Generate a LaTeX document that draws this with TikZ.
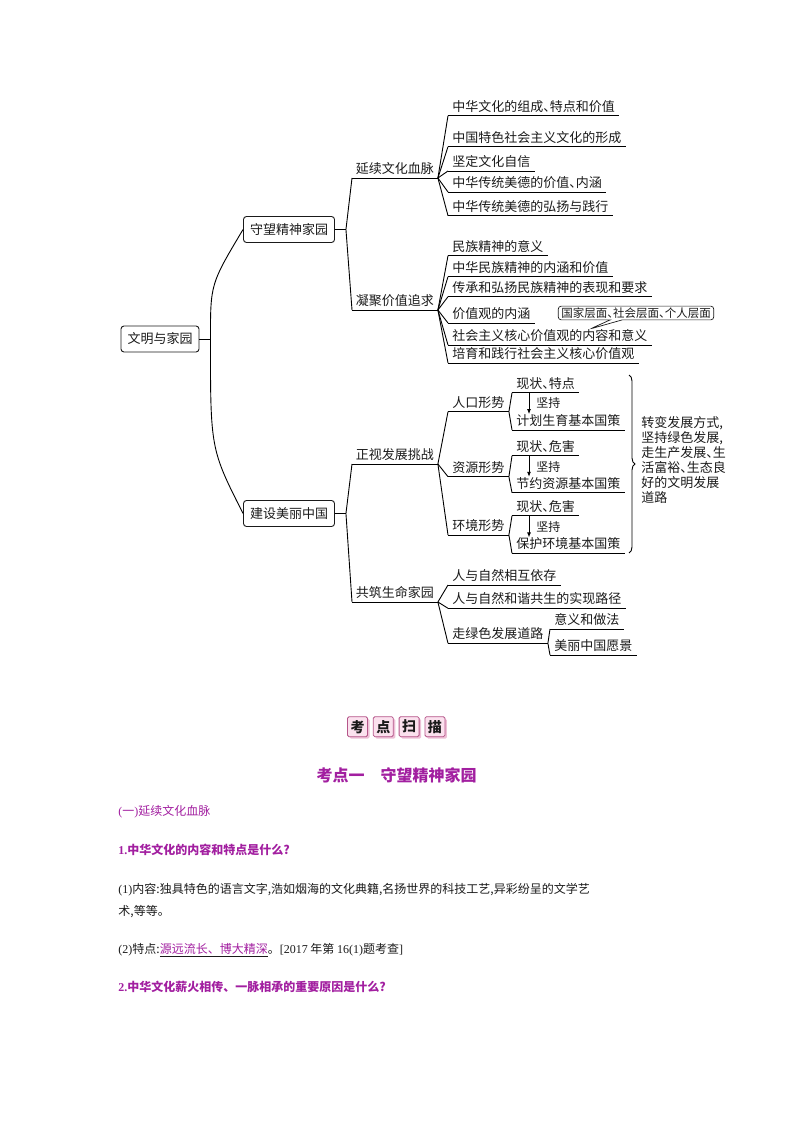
\documentclass[tikz,border=0pt]{standalone}
\usepackage{fontspec}
\setmainfont{Liberation Serif}
\newfontfamily\cjk{Noto Sans CJK SC}
\newfontfamily\cjkmap[RawFeature=+halt]{Noto Sans CJK SC}
\usetikzlibrary{arrows.meta,calc,decorations.pathreplacing,shapes.callouts,shadows}
\definecolor{ink}{HTML}{1A1A1A}
\definecolor{plum}{HTML}{A21FA0}
\definecolor{pinkfill}{HTML}{FBE1EE}
\definecolor{pinkline}{HTML}{B5568A}
\definecolor{pinkshade}{HTML}{EDC0D6}
\newcommand\latn[1]{{\rmfamily #1}}

\begin{document}
\begin{tikzpicture}[x=1pt,y=-1pt,>={Latex[length=5pt,width=4pt]},line width=.9pt,every node/.style={text=ink},
  box/.style={draw=ink,rounded corners=3pt,inner xsep=6.5pt,minimum height=26pt,font=\cjkmap\fontsize{13}{15}\selectfont},
  lbl/.style={anchor=south west,inner xsep=4pt,inner ysep=1pt,text height=10pt,text depth=3pt,font=\cjkmap\fontsize{13}{15}\selectfont},
  head/.style={lbl,inner xsep=3.5pt},
  small/.style={anchor=west,inner sep=1pt,font=\cjkmap\fontsize{12}{14}\selectfont},
  body/.style={anchor=west,inner sep=0pt,font=\cjk\fontsize{12}{14}\selectfont},
  ask/.style={body,text=plum,font=\cjk\bfseries\fontsize{12}{14}\selectfont},
  kbox/.style={draw=pinkline,fill=pinkfill,line width=.8pt,rounded corners=1.5pt,minimum size=20pt,inner sep=0pt,font=\cjk\bfseries\fontsize{14}{14}\selectfont,drop shadow={fill=pinkshade,shadow xshift=2pt,shadow yshift=-2pt,opacity=1}}]
\path[use as bounding box] (0,0) rectangle (794,1123);

% mind map, left part
\node[box] (root) at (160,339) {文明与家园};
\node[box] (jy) at (289,229.5) {守望精神家园};
\node[box] (ml) at (289,513.5) {建设美丽中国};
\draw (root.east) -- ++(11,0) coordinate (rv);
\draw (jy.west) .. controls ([yshift=55pt]rv) .. (rv) .. controls ([yshift=-110pt]rv) .. (ml.west);

\node[head] (yx) at (352,178) {延续文化血脉};
\node[head] (nj) at (352,310) {凝聚价值追求};
\node[head] (zs) at (352,464) {正视发展挑战};
\node[head] (gz) at (352,602) {共筑生命家园};
\draw (jy.east) -- ++(11,0) coordinate (jv);
\draw (yx.south west) -- (jv) -- (nj.south west);
\draw (ml.east) -- ++(11,0) coordinate (mv);
\draw (zs.south west) -- (mv) -- (gz.south west);

% 延续文化血脉
\node[lbl] (a1) at (448,115.7) {中华文化的组成、特点和价值};
\node[lbl] (a2) at (448,146.7) {中国特色社会主义文化的形成};
\node[lbl] (a3) at (448,171) {坚定文化自信};
\node[lbl] (a4) at (448,192) {中华传统美德的价值、内涵};
\node[lbl] (a5) at (448,215.7) {中华传统美德的弘扬与践行};
\foreach \n in {a1,a2,a3,a4,a5} \draw (yx.south east) -- (\n.south west);

% 凝聚价值追求
\node[lbl] (b1) at (448,255.7) {民族精神的意义};
\node[lbl] (b2) at (448,276.7) {中华民族精神的内涵和价值};
\node[lbl] (b3) at (448,296.7) {传承和弘扬民族精神的表现和要求};
\node[lbl] (b4) at (448,323) {价值观的内涵};
\node[lbl] (b5) at (448,345) {社会主义核心价值观的内容和意义};
\node[lbl] (b6) at (448,363) {培育和践行社会主义核心价值观};
\foreach \n in {b1,b2,b3,b4,b5,b6} \draw (nj.south east) -- (\n.south west);
\coordinate (tip) at (590,329);
\node[draw=ink,rectangle callout,callout absolute pointer={(tip)},callout pointer width=12pt,rounded corners=3pt,line width=.7pt,inner xsep=3pt,inner ysep=1.5pt,font=\cjkmap\fontsize{11.5}{13}\selectfont] (cb) at (636,313) {国家层面、社会层面、个人层面};

% 正视发展挑战
\node[lbl] (c1) at (448,411.7) {人口形势};
\node[lbl] (c2) at (448,476.7) {资源形势};
\node[lbl] (c3) at (448,535) {环境形势};
\foreach \n in {c1,c2,c3} \draw (zs.south east) -- (\n.south west);
\node[lbl] (d1) at (512,392.7) {现状、特点};
\node[lbl] (e1) at (512,430) {计划生育基本国策};
\node[lbl] (d2) at (512,455.7) {现状、危害};
\node[lbl] (e2) at (512,492.7) {节约资源基本国策};
\node[lbl] (d3) at (512,515.7) {现状、危害};
\node[lbl] (e3) at (512,553.3) {保护环境基本国策};
\node[small] (k1) at (535,403.3) {坚持};
\node[small] (k2) at (535,466.7) {坚持};
\node[small] (k3) at (535,526.7) {坚持};
\foreach \i in {1,2,3} {
  \draw (d\i.south west) -- (c\i.south east) -- (e\i.south west);
  \draw[->] ([xshift=17pt]d\i.south west) -- ([xshift=17pt]e\i.north west);
}
\coordinate (bt) at (629,375);
\coordinate (bb) at (629,553);
\draw[decorate,decoration={brace,amplitude=6pt}] (bt) -- (bb);
\node[anchor=west,align=left,inner sep=0pt,font=\cjkmap\fontsize{13}{15}\selectfont] (zb) at (641,460) {转变发展方式,\\坚持绿色发展,\\走生产发展、生\\活富裕、生态良\\好的文明发展\\道路};

% 共筑生命家园
\node[lbl] (f1) at (448,585) {人与自然相互依存};
\node[lbl] (f2) at (448,608.3) {人与自然和谐共生的实现路径};
\node[lbl] (f3) at (448,643.3) {走绿色发展道路};
\foreach \n in {f1,f2,f3} \draw (gz.south east) -- (\n.south west);
\node[lbl] (g1) at (550,629) {意义和做法};
\node[lbl] (g2) at (550,655) {美丽中国愿景};
\draw (g1.south west) -- (f3.south east) -- (g2.south west);

\foreach \n in {yx,nj,zs,gz,a1,a2,a3,a4,a5,b1,b2,b3,b4,b5,b6,c1,c2,c3,d1,d2,d3,e1,e2,e3,f1,f2,f3,g1,g2}
  \draw (\n.south west) -- (\n.south east);

% 考点扫描
\foreach \ch [count=\i] in {考,点,扫,描}
  \node[kbox] (ks\i) at (357.5+25.8*\i-25.8,726.7) {\ch};
\node[text=plum,font=\cjk\bfseries\fontsize{16}{18}\selectfont] (kd) at (396.7,775) {考点一　守望精神家园};

\node[body,text=plum] (t1) at (118,811.7) {\latn{(}一\latn{)}延续文化血脉};
\node[ask] (t2) at (118,850) {\latn{1.}中华文化的内容和特点是什么?};
\node[body] (t3) at (118,890) {\latn{(1)}内容:独具特色的语言文字,浩如烟海的文化典籍,名扬世界的科技工艺,异彩纷呈的文学艺};
\node[body] (t4) at (118,911.7) {术,等等。};
\node[body] (t5) at (118,950) {\latn{(2)}特点:\underline{\textcolor{plum}{源远流长、博大精深}}。\latn{[2017} 年第 \latn{16(1)}题考查\latn{]}};
\node[ask] (t6) at (118,986.7) {\latn{2.}中华文化薪火相传、一脉相承的重要原因是什么?};

\end{tikzpicture}
\end{document}
